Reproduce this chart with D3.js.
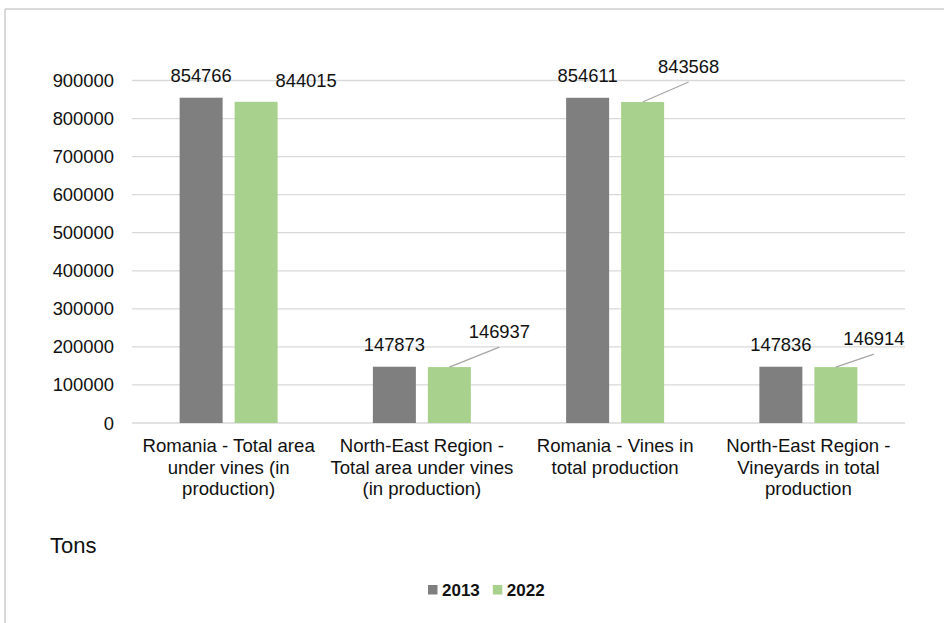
<!DOCTYPE html>
<html>
<head>
    <meta charset="utf-8"/>
    <script src="https://d3js.org/d3.v7.min.js"></script>
    <style>
        body { margin: 0; background: #fff; }
        svg text { font-family: "Liberation Sans", Arial, sans-serif; fill: #111; }
    </style>
</head>
<body>
    <svg id="chart" width="944" height="623"></svg>
    <script>
        // data
        let categories = [
            ["Romania - Total area", "under vines (in", "production)"],
            ["North-East Region -", "Total area under vines", "(in production)"],
            ["Romania - Vines in", "total production"],
            ["North-East Region -", "Vineyards in total", "production"]
        ];
        let series = ["2013", "2022"];
        let values2013 = [854766, 147873, 854611, 147836];
        let values2022 = [844015, 146937, 843568, 146914];
        let yTicks = [0, 100000, 200000, 300000, 400000, 500000, 600000, 700000, 800000, 900000];
        let unitLabel = "Tons";

        // where Excel had the 2022 labels dragged to (dx, dy from bar top)
        let labelNudge2022 = [[50, -15], [50, -29], [46, -29], [38, -22]];
        let leader2022 = [false, true, true, true];

        let colors = {"2013": "#7f7f7f", "2022": "#a9d18e"};
        let svg = d3.select("svg#chart");

        // outer frame (only top and left edges show)
        svg.append("line").attr("x1", 5).attr("x2", 944).attr("y1", 9).attr("y2", 9)
            .style("stroke", "#d9d9d9").style("stroke-width", 2);
        svg.append("line").attr("x1", 5).attr("x2", 5).attr("y1", 9).attr("y2", 623)
            .style("stroke", "#d9d9d9").style("stroke-width", 2);

        let xScale = d3.scaleBand().domain(d3.range(categories.length)).range([132, 905]);
        let bw = xScale.bandwidth();
        let xInner = d3.scaleBand().domain(series).range([bw / 2 - 49, bw / 2 + 49]).paddingInner(0.218);
        let yScale = d3.scaleLinear().domain([0, 900000]).range([423, 80.5]);

        // gridlines + tick labels
        yTicks.forEach(function(t) {
            svg.append("line")
                .attr("x1", 132).attr("x2", 905)
                .attr("y1", yScale(t)).attr("y2", yScale(t))
                .style("stroke", "#d9d9d9")
                .style("stroke-width", 1.3);
            svg.append("text")
                .text(t)
                .attr("x", 114)
                .attr("y", yScale(t) + 6.5)
                .attr("text-anchor", "end")
                .style("font-size", "18.4px");
        });

        // bars
        let table = categories.map(function(c, i) {
            return {i: i, "2013": values2013[i], "2022": values2022[i]};
        });
        table.forEach(function(d) {
            series.forEach(function(s) {
                svg.append("rect")
                    .attr("x", xScale(d.i) + xInner(s))
                    .attr("y", yScale(d[s]))
                    .attr("width", xInner.bandwidth())
                    .attr("height", yScale(0) - yScale(d[s]))
                    .style("fill", colors[s]);
            });

            // 2013 label, straight above
            let cx13 = xScale(d.i) + xInner("2013") + xInner.bandwidth() / 2;
            svg.append("text")
                .text(d["2013"])
                .attr("x", cx13)
                .attr("y", yScale(d["2013"]) - 16)
                .attr("text-anchor", "middle")
                .style("font-size", "18.4px");

            // 2022 label, nudged with leader line
            let cx22 = xScale(d.i) + xInner("2022") + xInner.bandwidth() / 2;
            let top22 = yScale(d["2022"]);
            let nudge = labelNudge2022[d.i];
            if (leader2022[d.i]) {
                svg.append("line")
                    .attr("x1", cx22).attr("y1", top22)
                    .attr("x2", cx22 + nudge[0]).attr("y2", top22 + nudge[1] + 9)
                    .style("stroke", "#a6a6a6")
                    .style("stroke-width", 1.3);
            }
            svg.append("text")
                .text(d["2022"])
                .attr("x", cx22 + nudge[0])
                .attr("y", top22 + nudge[1])
                .attr("text-anchor", "middle")
                .style("font-size", "18.4px");
        });

        // category labels
        categories.forEach(function(lines, i) {
            let t = svg.append("text")
                .attr("text-anchor", "middle")
                .style("font-size", "18.6px");
            lines.forEach(function(line, k) {
                t.append("tspan")
                    .attr("x", xScale(i) + bw / 2)
                    .attr("y", 452 + k * 21.5)
                    .text(line);
            });
        });

        // unit
        svg.append("text")
            .text(unitLabel)
            .attr("x", 50)
            .attr("y", 553)
            .style("font-size", "22px");

        // legend
        let legend = svg.append("g");
        let lx = 0;
        series.forEach(function(s) {
            legend.append("rect")
                .attr("x", lx).attr("y", 585)
                .attr("width", 9.5).attr("height", 9.5)
                .style("fill", colors[s]);
            let txt = legend.append("text")
                .text(s)
                .attr("x", lx + 14)
                .attr("y", 596)
                .style("font-size", "17px")
                .style("font-weight", "bold");
            lx += 14 + txt.node().getComputedTextLength() + 13;
        });
        legend.attr("transform", "translate(" + (428) + ",0)");
    </script>
</body>
</html>
